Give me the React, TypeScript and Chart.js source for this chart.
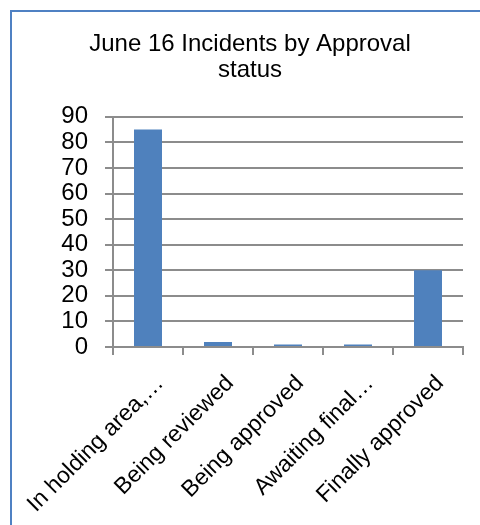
import React, { useEffect, useRef } from "react";
import { Chart, registerables } from "chart.js";

Chart.register(...registerables);

const categories = [
  "In holding area,…",
  "Being reviewed",
  "Being approved",
  "Awaiting final…",
  "Finally approved",
];
const incidentCounts = [85, 2, 1, 1, 30];
const titleLines = ["June 16 Incidents by Approval", "status"];

const BAR_BLUE = "#4f81bd";
const GRID_GREY = "#8c8c8c";
const FONT = "'Liberation Sans', Arial, sans-serif";

export default function App() {
  const canvasRef = useRef<HTMLCanvasElement | null>(null);

  useEffect(() => {
    const canvas = canvasRef.current;
    if (!canvas) return;
    const chart = new Chart(canvas, {
      type: "bar",
      data: {
        labels: categories,
        datasets: [
          {
            data: incidentCounts,
            backgroundColor: BAR_BLUE,
            borderWidth: 0,
            categoryPercentage: 1,
            barPercentage: 0.4,
          },
        ],
      },
      options: {
        animation: false,
        responsive: false,
        maintainAspectRatio: false,
        layout: { padding: { left: 25, right: 17, top: 0, bottom: 0 } },
        plugins: {
          legend: { display: false },
          tooltip: { enabled: false },
          title: {
            display: true,
            text: titleLines,
            color: "#000",
            font: { family: FONT, size: 24, weight: "normal", lineHeight: 1.1 },
            padding: { top: 19, bottom: 33 },
          },
        },
        scales: {
          x: {
            grid: {
              display: true,
              drawOnChartArea: false,
              drawTicks: true,
              tickLength: 8,
              color: GRID_GREY,
              lineWidth: 2,
            },
            border: { display: true, color: GRID_GREY, width: 2 },
            ticks: {
              color: "#000",
              font: { family: FONT, size: 23 },
              minRotation: 45,
              maxRotation: 45,
              autoSkip: false,
              padding: 15,
              labelOffset: 12,
            },
            afterFit: (scale: any) => {
              scale.height = 178;
              scale.paddingLeft = 0;
              scale.paddingRight = 0;
            },
          },
          y: {
            min: 0,
            max: 90,
            ticks: {
              stepSize: 10,
              autoSkip: false,
              color: "#000",
              font: { family: FONT, size: 24 },
              padding: 17,
            },
            grid: {
              color: GRID_GREY,
              lineWidth: 2,
              drawTicks: true,
              tickLength: 8,
            },
            border: { display: true, color: GRID_GREY, width: 2 },
            afterFit: (scale: any) => {
              scale.width = 76;
            },
          },
        },
      },
    });
    return () => chart.destroy();
  }, []);

  return (
    <div
      style={{
        position: "absolute",
        left: 0,
        top: 0,
        width: 480,
        height: 525,
        overflow: "hidden",
        background: "#fff",
      }}
    >
      <div
        style={{
          position: "absolute",
          left: 10,
          top: 10,
          right: 0,
          bottom: 0,
          borderLeft: "2px solid #4f81c3",
          borderTop: "2px solid #4f81c3",
        }}
      />
      <canvas
        ref={canvasRef}
        width={468}
        height={513}
        style={{ position: "absolute", left: 12, top: 12, width: 468, height: 513 }}
      />
    </div>
  );
}
